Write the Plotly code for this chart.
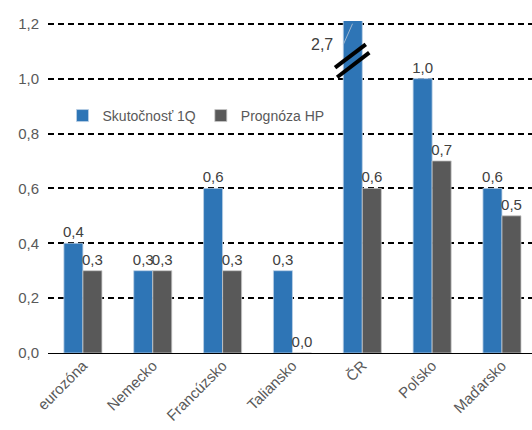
import plotly.graph_objects as go

categories = ["eurozóna", "Nemecko", "Francúzsko", "Taliansko", "ČR", "Poľsko", "Maďarsko"]
skutocnost = [0.4, 0.3, 0.6, 0.3, 2.7, 1.0, 0.6]
prognoza = [0.3, 0.3, 0.3, 0.0, 0.6, 0.7, 0.5]
y_ticks = [0.0, 0.2, 0.4, 0.6, 0.8, 1.0, 1.2]

AXIS_MAX = 1.2
BLUE = "#2E75B6"
GRAY = "#595959"
TEXT = "#404040"
FONT = "Liberation Sans, Arial, sans-serif"


def fmt(v):
    return f"{v:.1f}".replace(".", ",")


# values above the axis maximum are cut off and labelled separately
sk_text = [fmt(v) if v <= AXIS_MAX else "" for v in skutocnost]
pr_text = [fmt(v) for v in prognoza]

fig = go.Figure()
fig.add_trace(go.Bar(
    name="Skutočnosť 1Q", x=categories, y=skutocnost,
    marker=dict(color=BLUE, line=dict(color="#BDD0E6", width=0.8)),
    text=sk_text, textposition="outside", cliponaxis=True, constraintext="none",
    textfont=dict(size=15, color=TEXT, family=FONT),
))
fig.add_trace(go.Bar(
    name="Prognóza HP", x=categories, y=prognoza,
    marker=dict(color=GRAY, line=dict(color="#C8C8C8", width=0.8)),
    text=pr_text, textposition="outside", cliponaxis=False, constraintext="none",
    textfont=dict(size=15, color=TEXT, family=FONT),
))

# axis-break marker on the truncated ČR bar
cr = categories.index("ČR")
over = [v for v in skutocnost if v > AXIS_MAX][0]
shapes = [
    dict(type="line", xref="x", yref="y", x0=cr - 0.39, y0=1.04, x1=cr + 0.05, y1=1.125,
         line=dict(color="black", width=4)),
    dict(type="line", xref="x", yref="y", x0=cr - 0.36, y0=1.005, x1=cr + 0.10, y1=1.095,
         line=dict(color="black", width=4)),
    dict(type="line", xref="x", yref="y", x0=cr - 0.14, y0=1.2, x1=cr - 0.27, y1=1.125,
         line=dict(color="#9FB7D0", width=1)),
]
annotations = [
    dict(x=cr - 0.57, y=1.125, xref="x", yref="y", text=fmt(over), showarrow=False,
         font=dict(size=16, color=TEXT, family=FONT)),
]

fig.update_layout(
    width=532, height=430,
    margin=dict(l=48, r=0, t=21, b=77),
    paper_bgcolor="white", plot_bgcolor="white",
    separators=", ",
    barmode="group", bargap=0.455, bargroupgap=0,
    font=dict(family=FONT, color=GRAY, size=15),
    shapes=shapes, annotations=annotations,
    legend=dict(orientation="h", x=0.03, y=0.714, xanchor="left", yanchor="middle",
                bgcolor="rgba(0,0,0,0)", font=dict(size=14, color=GRAY, family=FONT),
                itemwidth=30, tracegroupgap=0),
    xaxis=dict(range=[-0.5, 6.43], tickangle=-45, showgrid=False,
               showline=False, ticks="", tickfont=dict(size=15, color=GRAY)),
    yaxis=dict(range=[0, AXIS_MAX + 0.01], tickvals=y_ticks, tickformat=".1f",
               showgrid=True, gridcolor="black", gridwidth=1.5, griddash="6px,4px",
               zeroline=True, zerolinecolor="black", zerolinewidth=1.2,
               showline=False, ticks="", ticklabelstandoff=8,
               tickfont=dict(size=15, color=GRAY)),
)

fig.write_html("out.html")
